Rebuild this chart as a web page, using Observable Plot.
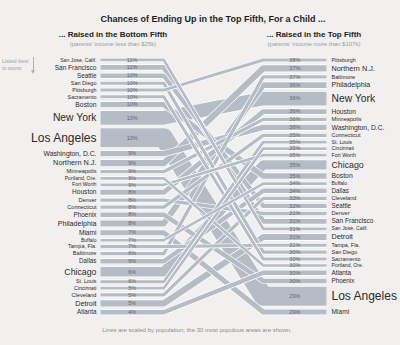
<!DOCTYPE html>
<html><head><meta charset="utf-8">
<script src="https://cdn.jsdelivr.net/npm/d3@7"></script>
<script src="https://cdn.jsdelivr.net/npm/@observablehq/plot@0.6"></script>
<style>
body{margin:0;background:#f1f0ee;}
#wrap{position:relative;width:400px;height:345px;overflow:hidden;font-family:"Liberation Sans",Arial,sans-serif;}
.t{position:absolute;white-space:nowrap;transform:translateX(-50%);line-height:1;}
#title{left:213px;top:15px;font-size:9px;font-weight:bold;color:#1e1e1e;}
.sub{font-size:8px;font-weight:bold;color:#222;top:31px;}
.par{font-size:6px;color:#9a9a9a;top:41px;}
#foot{left:197px;top:327px;font-size:6px;color:#8c8c8c;}
#note{position:absolute;left:2px;top:58px;font-size:5.5px;color:#a0a0a0;line-height:7px;}
#arrow{position:absolute;left:33px;top:57px;width:0;height:13px;border-left:1px solid #b0b0b0;}
#arrowhead{position:absolute;left:31px;top:70px;width:0;height:0;border-left:2.5px solid transparent;border-right:2.5px solid transparent;border-top:4px solid #b0b0b0;}
#chart{position:absolute;left:0;top:50px;}
</style></head>
<body>
<div id="wrap">
  <div class="t" id="title">Chances of Ending Up in the Top Fifth, For a Child ...</div>
  <div class="t sub" style="left:113px">... Raised in the Bottom Fifth</div>
  <div class="t par" style="left:113px">(parents’ income less than $25k)</div>
  <div class="t sub" style="left:314px">... Raised in the Top Fifth</div>
  <div class="t par" style="left:314px">(parents’ income more than $107k)</div>
  <div id="note">Listed best<br>to worst</div>
  <div id="arrow"></div><div id="arrowhead"></div>
  <div id="chart"></div>
  <div class="t" id="foot">Lines are scaled by population; the 30 most populous areas are shown.</div>
</div>
<script>
// ---- data ----
const cities = ["San Jose, Calif.","San Francisco","Seattle","San Diego","Pittsburgh","Sacramento","Boston","New York","Los Angeles","Washington, D.C.","Northern N.J.","Minneapolis","Portland, Ore.","Fort Worth","Houston","Denver","Connecticut","Phoenix","Philadelphia","Miami","Buffalo","Tampa, Fla.","Baltimore","Dallas","Chicago","St. Louis","Cincinnati","Cleveland","Detroit","Atlanta"];
const bottomFifthPct = [11,11,10,10,10,10,10,10,10,9,9,9,9,9,8,8,8,8,8,7,7,7,6,6,6,6,5,5,5,4];
const populationM = [2.4,4.2,3.8,2.8,2.6,2.6,4.6,11.8,16.4,4.6,5.4,2.9,2.3,2.4,4.2,2.9,2.8,3.9,5.1,4.3,2.2,2.7,2.9,3.8,8.2,2.5,2.3,2.9,5.3,3.8];
const topRank = ["Pittsburgh","Northern N.J.","Baltimore","Philadelphia","New York","Houston","Minneapolis","Washington, D.C.","Connecticut","St. Louis","Cincinnati","Fort Worth","Chicago","Boston","Buffalo","Dallas","Cleveland","Seattle","Denver","San Francisco","San Jose, Calif.","Detroit","Tampa, Fla.","San Diego","Sacramento","Portland, Ore.","Atlanta","Phoenix","Los Angeles","Miami"];
const topFifthPct = [38,37,37,36,36,36,36,36,35,35,35,35,35,35,34,34,33,32,31,31,31,31,31,30,30,30,30,30,29,29];

// ---- layout ----
const W = 400, H = 272, GAP = 3.2;
const XL = 0.28, XR = 0.72;   // where bars bend (fraction of x domain)
const pop = new Map(cities.map((c,i)=>[c, populationM[i]]));
function stackOf(order){
  const m = new Map(); let y = 0;
  for (const c of order){ const p = pop.get(c); m.set(c, y + p/2); y += p + GAP; }
  return m;
}
const leftY = stackOf(cities), rightY = stackOf(topRank);
const total = d3.sum(populationM) + GAP*(cities.length-1);
const yOpts = {domain:[0,total], range:[8, H-8]};
const ys = Plot.scale({y: yOpts});
const k = ys.apply(1) - ys.apply(0);
const fontSize = d3.scalePow().exponent(0.5).domain([2.4,16.4]).range([5.2,12]);

const leftRows = cities.map((c,i)=>({city:c, y:leftY.get(c), v:bottomFifthPct[i], p:pop.get(c)}));
const rightRows = topRank.map((c,i)=>({city:c, y:rightY.get(c), v:topFifthPct[i], p:pop.get(c)}));

const lineMarks = [];
[...cities].sort((a,b)=>pop.get(b)-pop.get(a)).forEach(c=>{
  const L = leftY.get(c), R = rightY.get(c);
  const pts = [{x:0,y:L},{x:XL,y:L},{x:XR,y:R},{x:1,y:R}];
  const w = pop.get(c)*k;
  lineMarks.push(Plot.line(pts,{x:"x",y:"y",stroke:"#ffffff",strokeWidth:w+1.4,strokeLinecap:"butt",strokeLinejoin:"round"}));
  lineMarks.push(Plot.line(pts,{x:"x",y:"y",stroke:"#b6bcc6",strokeWidth:w,strokeLinecap:"butt",strokeLinejoin:"round"}));
});

const font = '"Liberation Sans",Arial,sans-serif';
const chart = Plot.plot({
  width: W, height: H,
  marginLeft: 100, marginRight: 74, marginTop: 8, marginBottom: 8,
  x: {domain:[0,1], range:[100,326], axis:null},
  y: {...yOpts, axis:null},
  style: {background:"transparent", fontFamily: font},
  marks: [
    ...lineMarks,
    Plot.text(leftRows,{x:0.14,y:"y",text:d=>d.v+"%",fontSize:5.5,fill:"#62666d"}),
    Plot.text(rightRows,{x:0.86,y:"y",text:d=>d.v+"%",fontSize:5.5,fill:"#62666d"}),
    Plot.text(leftRows,{x:0,y:"y",text:"city",textAnchor:"end",dx:-4,fontSize:d=>fontSize(d.p),fill:"#2a2a2a"}),
    Plot.text(rightRows,{x:1,y:"y",text:"city",textAnchor:"start",dx:5,fontSize:d=>fontSize(d.p),fill:"#2a2a2a"})
  ]
});
document.getElementById("chart").appendChild(chart);
</script>
</body></html>
